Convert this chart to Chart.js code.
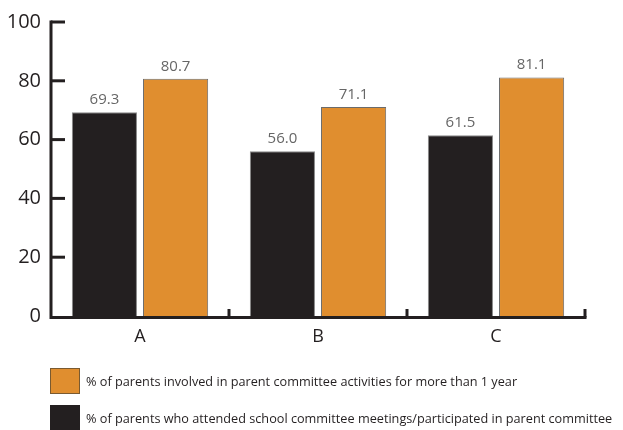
<!DOCTYPE html>
<html>
<head>
<meta charset="utf-8">
<script src="https://cdn.jsdelivr.net/npm/chart.js@4.4.1/dist/chart.umd.min.js"></script>
<style>
  html, body { margin: 0; padding: 0; background: #fff; }
  #wrap { position: relative; width: 623px; height: 430px; }
</style>
</head>
<body>
<div id="wrap"><canvas id="parentsChart"></canvas></div>
<script>
const categories = ['A', 'B', 'C'];
const attended = [69.3, 56.0, 61.5];
const involved = [80.7, 71.1, 81.1];
const yTicks = [0, 20, 40, 60, 80, 100];
const legendLabels = [
  '% of parents involved in parent committee activities for more than 1 year',
  '% of parents who attended school committee meetings/participated in parent committee'
];

const darkFill = '#231f20';
const orangeFill = '#e08e2f';
const fontFamily = '"Open Sans", "Noto Sans", sans-serif';

// value text above each bar
const valueLabels = {
  id: 'valueLabels',
  afterDatasetsDraw(chart) {
    const ctx = chart.ctx;
    ctx.save();
    ctx.fillStyle = '#666';
    ctx.font = '15px ' + fontFamily;
    ctx.textAlign = 'center';
    ctx.textBaseline = 'bottom';
    chart.data.datasets.forEach((ds, i) => {
      chart.getDatasetMeta(i).data.forEach((bar, j) => {
        ctx.fillText(ds.data[j].toFixed(1), bar.x, bar.y - 5);
      });
    });
    ctx.restore();
  }
};

// thick axes with inward tick marks
const axisMarks = {
  id: 'axisMarks',
  afterDraw(chart) {
    const ctx = chart.ctx;
    const area = chart.chartArea;
    const y = chart.scales.y;
    const step = (area.right - area.left) / categories.length;
    ctx.save();
    ctx.strokeStyle = darkFill;
    ctx.lineWidth = 3;
    ctx.lineCap = 'butt';
    ctx.beginPath();
    ctx.moveTo(area.left, y.getPixelForValue(100) - 1.5);
    ctx.lineTo(area.left, area.bottom + 1.5);
    ctx.lineTo(area.right + 1.5, area.bottom + 1.5);
    ctx.stroke();
    yTicks.slice(1).forEach(v => {
      const py = y.getPixelForValue(v);
      ctx.beginPath();
      ctx.moveTo(area.left, py);
      ctx.lineTo(area.left + 14, py);
      ctx.stroke();
    });
    for (let i = 1; i <= categories.length; i++) {
      const px = area.left + step * i;
      ctx.beginPath();
      ctx.moveTo(px, area.bottom + 1.5);
      ctx.lineTo(px, area.bottom - 7);
      ctx.stroke();
    }
    ctx.restore();
  }
};

// legend boxes stacked under the axis
const bottomLegend = {
  id: 'bottomLegend',
  afterDraw(chart) {
    const ctx = chart.ctx;
    const rows = [
      { fill: orangeFill, border: '#7a5a30', text: legendLabels[0], top: 368 },
      { fill: darkFill, border: darkFill, text: legendLabels[1], top: 405 }
    ];
    ctx.save();
    ctx.font = '12.7px ' + fontFamily;
    ctx.textBaseline = 'middle';
    rows.forEach(r => {
      ctx.fillStyle = r.fill;
      ctx.fillRect(50, r.top, 30, 26);
      ctx.strokeStyle = r.border;
      ctx.lineWidth = 1;
      ctx.strokeRect(50.5, r.top + 0.5, 29, 25);
      ctx.fillStyle = darkFill;
      ctx.fillText(r.text, 86, r.top + 14);
    });
    ctx.restore();
  }
};

new Chart(document.getElementById('parentsChart'), {
  type: 'bar',
  data: {
    labels: categories,
    datasets: [
      {
        label: legendLabels[1],
        data: attended,
        backgroundColor: darkFill,
        borderColor: '#8a8a8a',
        borderWidth: 1,
        categoryPercentage: 0.8,
        barPercentage: 0.915
      },
      {
        label: legendLabels[0],
        data: involved,
        backgroundColor: orangeFill,
        borderColor: '#6b6b6b',
        borderWidth: 1,
        categoryPercentage: 0.8,
        barPercentage: 0.915
      }
    ]
  },
  options: {
    responsive: true,
    maintainAspectRatio: false,
    animation: false,
    layout: { padding: { left: 0, right: 38, top: 21, bottom: 70 } },
    plugins: {
      legend: { display: false },
      tooltip: { enabled: false }
    },
    scales: {
      x: {
        grid: { display: false, drawTicks: false },
        border: { display: false },
        ticks: { color: darkFill, font: { family: fontFamily, size: 18 }, padding: 10 },
        afterFit: s => { s.height = 44; }
      },
      y: {
        min: 0,
        max: 100,
        grid: { display: false, drawTicks: false },
        border: { display: false },
        afterBuildTicks: s => { s.ticks = yTicks.map(v => ({ value: v })); },
        ticks: { color: darkFill, font: { family: fontFamily, size: 20 }, padding: 10 },
        afterFit: s => { s.width = 51; }
      }
    }
  },
  plugins: [valueLabels, axisMarks, bottomLegend]
});
</script>
</body>
</html>
